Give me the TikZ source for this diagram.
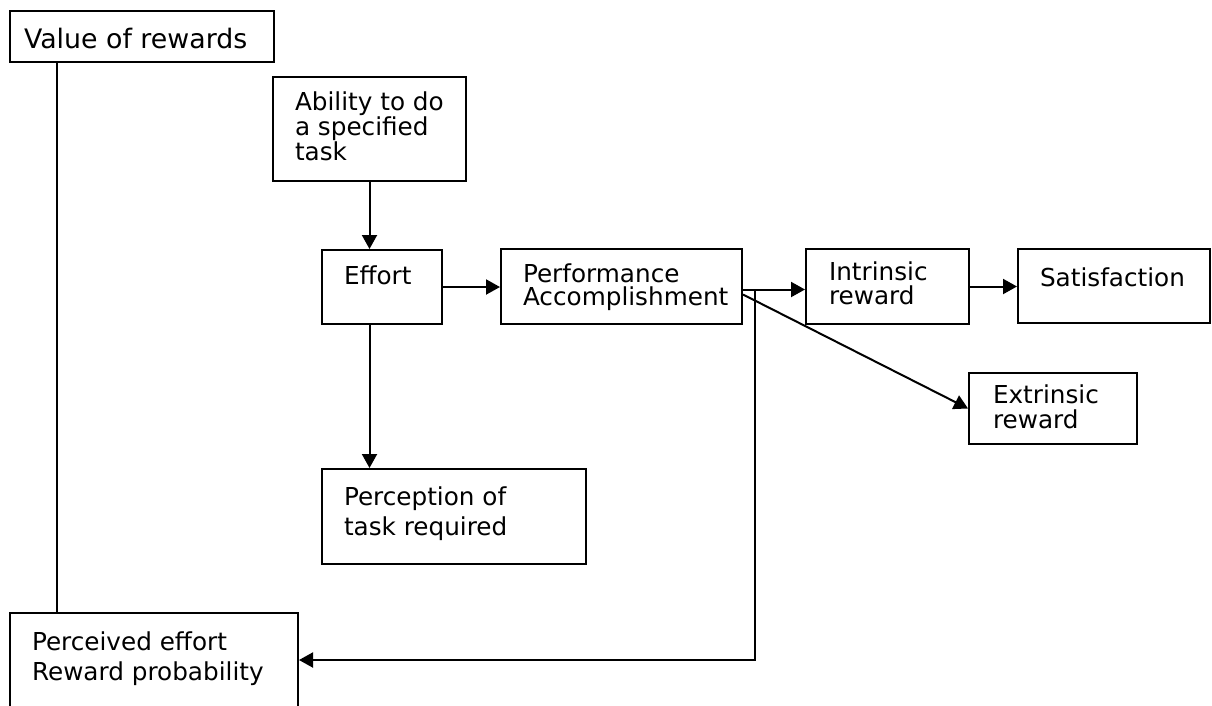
\documentclass[tikz,border=0pt]{standalone}
\usepackage{fontspec}
\setmainfont{DejaVu Sans}
\usetikzlibrary{fit,positioning,calc,arrows.meta}
\tikzset{box/.style={draw,line width=2pt,inner sep=0pt},
	txt/.style={anchor=north west,inner sep=0pt,align=left,font=\fontsize{24.7}{23.5}\selectfont},
	wide/.style={font=\fontsize{24.7}{30}\selectfont}}

\begin{document}
\begin{tikzpicture}[x=1pt,y=-1pt,line width=2pt,>={Triangle[length=14pt,width=15pt]}]
	\useasboundingbox (0,0) rectangle (1212,705);
	\node[box,fit={(10,11) (274,62)}] (val) {};
	\node[txt,font=\fontsize{26.8}{30}\selectfont] (valtxt) at (23,27) {Value of rewards};
	\node[box,fit={(273,77) (466,181)}] (abil) {};
	\node[txt] (abiltxt) at (294,91) {Ability to do\\a specified\\task};
	\node[box,fit={(322,250) (442,324)}] (eff) {};
	\node[txt] (efftxt) at (343,265) {Effort};
	\node[box,fit={(501,249) (742,324)}] (perf) {};
	\node[txt,font=\fontsize{24.7}{22.5}\selectfont] (perftxt) at (522,263) {Performance\\Accomplishment};
	\node[box,fit={(806,249) (969,324)}] (intr) {};
	\node[txt] (intrtxt) at (828,261) {Intrinsic\\reward};
	\node[box,fit={(1018,249) (1210,323)}] (sat) {};
	\node[txt] (sattxt) at (1039,267) {Satisfaction};
	\node[box,fit={(969,373) (1137,444)}] (extr) {};
	\node[txt,font=\fontsize{24.7}{25}\selectfont] (extrtxt) at (992,384) {Extrinsic\\reward};
	\node[box,fit={(322,469) (586,564)}] (perc) {};
	\node[txt,wide] (perctxt) at (343,486) {Perception of\\task required};
	\node[box,fit={(10,613) (298,707)}] (perv) {};
	\node[txt,wide] (pervtxt) at (31,631) {Perceived effort\\Reward probability};

	\draw ([xshift=48pt]val.south west) -- ([xshift=48pt]perv.north west);
	\draw[->] (abil.south) -- (abil.south |- eff.north);
	\draw[->] (abil.south |- eff.south) -- (abil.south |- perc.north);
	\draw[->] (eff.east) -- (eff.east -| perf.west);
	\draw[->] ([yshift=-3pt]perf.east) -- ([yshift=-3pt]perf.east -| intr.west);
	\draw[->] ([xshift=12pt,yshift=-3pt]perf.east) |- (perv.east);
	\draw[->] ([yshift=-8pt]perf.east) -- (extr.west);
	\draw[->] (intr.east) -- (intr.east -| sat.west);
\end{tikzpicture}
\end{document}
